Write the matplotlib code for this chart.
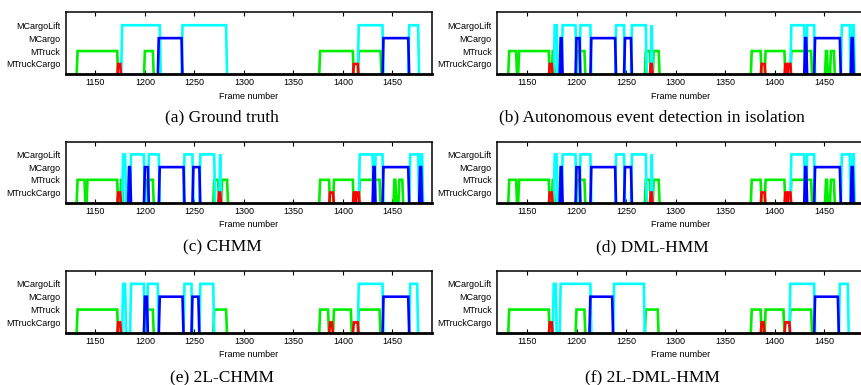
import numpy as np
import matplotlib
matplotlib.use("Agg")
import matplotlib.pyplot as plt

# ---------------- data ----------------
event_labels = ["MTruckCargo", "MTruck", "MCargo", "MCargoLift"]
frame_start, frame_end = 1120, 1490
x_ticks = [1150, 1200, 1250, 1300, 1350, 1400, 1450]

captions = ["(a) Ground truth",
            "(b) Autonomous event detection in isolation",
            "(c) CHMM", "(d) DML-HMM", "(e) 2L-CHMM", "(f) 2L-DML-HMM"]

# intervals (start frame, end frame) for each event, per panel
a_truckcargo = [(1173, 1175), (1411, 1415)]
a_truck = [(1132, 1172), (1200, 1208), (1377, 1410), (1416, 1438)]
a_cargo = [(1214, 1237), (1441, 1466)]
a_cargolift = [(1177, 1215), (1238, 1282), (1416, 1440), (1467, 1476)]

b_truckcargo = [(1173, 1175), (1275, 1276), (1387, 1390), (1411, 1412), (1414, 1416)]
b_truck = [(1132, 1139), (1142, 1172), (1176, 1177), (1201, 1208), (1270, 1274),
           (1278, 1283), (1377, 1386), (1391, 1410), (1417, 1437), (1452, 1453),
           (1457, 1460)]
b_cargo = [(1184, 1185), (1200, 1203), (1215, 1239), (1249, 1255), (1431, 1432),
           (1441, 1466), (1478, 1479)]
b_cargolift = [(1178, 1180), (1186, 1199), (1204, 1214), (1240, 1248), (1256, 1270),
               (1276, 1276), (1417, 1430), (1433, 1440), (1468, 1476), (1479, 1480)]

c_truckcargo = [(1173, 1175), (1275, 1276), (1387, 1390), (1411, 1412), (1414, 1416)]
c_truck = [(1132, 1139), (1142, 1172), (1176, 1177), (1201, 1208), (1270, 1274),
           (1278, 1283), (1377, 1386), (1391, 1410), (1417, 1437), (1452, 1453),
           (1457, 1460)]
c_cargo = [(1184, 1185), (1200, 1203), (1215, 1239), (1249, 1255), (1431, 1432),
           (1441, 1466), (1478, 1479)]
c_cargolift = [(1178, 1180), (1186, 1199), (1204, 1214), (1240, 1248), (1256, 1270),
               (1276, 1276), (1417, 1430), (1433, 1440), (1468, 1476), (1479, 1480)]

d_truckcargo = [(1173, 1175), (1275, 1276), (1387, 1390), (1411, 1412), (1414, 1416)]
d_truck = [(1132, 1139), (1142, 1172), (1176, 1177), (1201, 1208), (1270, 1274),
           (1278, 1283), (1377, 1386), (1391, 1410), (1417, 1437), (1452, 1453),
           (1457, 1460)]
d_cargo = [(1184, 1185), (1200, 1203), (1215, 1239), (1249, 1255), (1431, 1432),
           (1441, 1466), (1478, 1479)]
d_cargolift = [(1178, 1180), (1186, 1199), (1204, 1214), (1240, 1248), (1256, 1270),
               (1276, 1276), (1417, 1430), (1433, 1440), (1468, 1476), (1479, 1480)]

e_truckcargo = [(1173, 1175), (1387, 1389), (1411, 1415)]
e_truck = [(1132, 1172), (1200, 1208), (1270, 1282), (1377, 1385), (1391, 1408),
           (1416, 1437)]
e_cargo = [(1200, 1202), (1215, 1238), (1248, 1254), (1441, 1466)]
e_cargolift = [(1178, 1180), (1186, 1199), (1203, 1213), (1240, 1247), (1256, 1269),
               (1416, 1440), (1468, 1475)]

f_truckcargo = [(1173, 1175), (1387, 1389), (1411, 1415)]
f_truck = [(1132, 1172), (1200, 1208), (1270, 1282), (1377, 1386), (1391, 1409),
           (1416, 1437)]
f_cargo = [(1214, 1236), (1441, 1464)]
f_cargolift = [(1177, 1179), (1184, 1214), (1238, 1268), (1416, 1440), (1466, 1474)]

panels = [
    (a_truckcargo, a_truck, a_cargo, a_cargolift),
    (b_truckcargo, b_truck, b_cargo, b_cargolift),
    (c_truckcargo, c_truck, c_cargo, c_cargolift),
    (d_truckcargo, d_truck, d_cargo, d_cargolift),
    (e_truckcargo, e_truck, e_cargo, e_cargolift),
    (f_truckcargo, f_truck, f_cargo, f_cargolift),
]

colors = ["#ff0000", "#00ee00", "#0000ff", "#00ffff"]
draw_order = [1, 3, 2, 0]   # green, cyan, blue, red on top

# ---------------- layout ----------------
W, H = 861, 385
fig = plt.figure(figsize=(W / 100, H / 100), dpi=100)

sans = ["Liberation Sans", "DejaVu Sans"]
serif = ["Liberation Serif", "DejaVu Serif"]
fs_small = 6.5

col_left = [65.7, 497.3]
ax_w = 366.3
rows = [(12.3, 74.3), (141.7, 202.7), (271.0, 332.7)]
caption_y = [117, 247, 378]
caption_x = [222, 652]

frames = np.arange(frame_start, frame_end + 1)

for i, series in enumerate(panels):
    r, c = divmod(i, 2)
    top, bot = rows[r]
    ax = fig.add_axes([col_left[c] / W, 1 - bot / H, ax_w / W, (bot - top) / H])
    for k in draw_order:
        level = k + 1
        sig = np.zeros_like(frames, dtype=float)
        for s, e in series[k]:
            sig[(frames >= s) & (frames <= e)] = level
        ax.plot(frames, sig, color=colors[k], lw=1.9, solid_joinstyle="miter")
    ax.set_xlim(frame_start, frame_end)
    ax.set_ylim(0.2, 5.0)
    ax.set_xticks(x_ticks)
    ax.set_xticklabels([str(t) for t in x_ticks], family=sans, fontsize=fs_small)
    ax.set_yticks([1, 2, 3, 4])
    ax.set_yticklabels(event_labels, family=sans, fontsize=fs_small)
    ax.tick_params(axis="x", direction="in", length=3, width=0.8, top=True, pad=3)
    ax.tick_params(axis="y", length=0, pad=4)
    for sp in ax.spines.values():
        sp.set_linewidth(1.1)
    ax.spines["bottom"].set_linewidth(2.0)
    ax.set_xlabel("Frame number", family=sans, fontsize=fs_small, labelpad=3)
    fig.text(caption_x[c] / W, 1 - caption_y[r] / H, captions[i],
             family=serif, fontsize=12.5, ha="center", va="center")

fig.savefig("out.png", dpi=100)
